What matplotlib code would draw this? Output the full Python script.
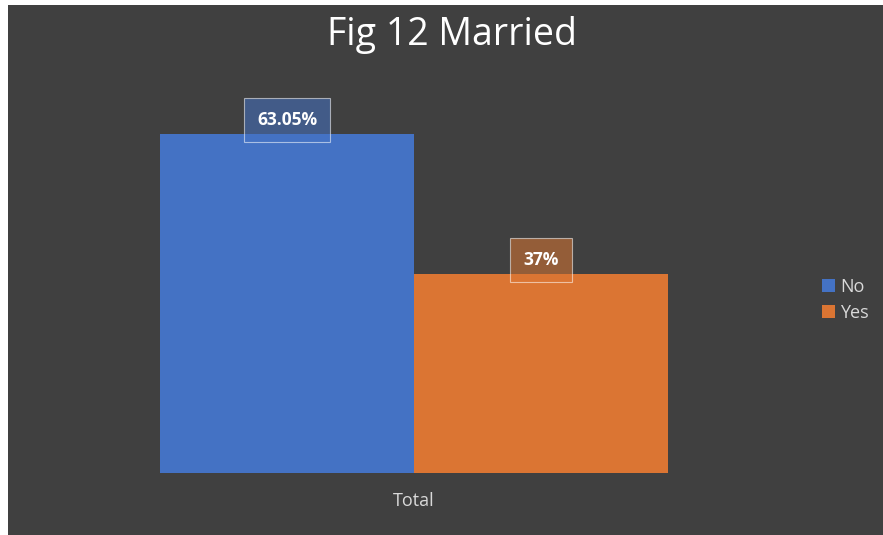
import matplotlib.pyplot as plt
from matplotlib.patches import Rectangle

# data
series = ["No", "Yes"]
values = [63.05, 37]
labels = ["63.05%", "37%"]
category = "Total"
colors = ["#4472C4", "#DB7533"]
title = "Fig 12 Married"

bg = "#404040"
txt = "#D9D9D9"

plt.rcParams['font.family'] = ['Open Sans', 'DejaVu Sans']

fig = plt.figure(figsize=(8.83, 5.35), dpi=100)
fig.patch.set_facecolor("white")
# dark chart area (small white strip left/top like the screenshot)
fig.patches.append(Rectangle((8 / 883, 0), 1, 1 - 5 / 535, transform=fig.transFigure,
                             facecolor=bg, edgecolor="none", zorder=-10))

ax = fig.add_axes([160 / 883, 1 - 473 / 535, 508 / 883, 376 / 535])
ax.set_facecolor("none")

xs = [-0.5, 0.5]
bars = ax.bar(xs, values, width=1.0, color=colors, zorder=2)
ax.set_xlim(-1, 1)
ax.set_ylim(0, 70)

for x, v, lab, c in zip(xs, values, labels, colors):
    ax.annotate(lab, (x, v), xytext=(0, 10), textcoords="offset points",
                ha="center", va="center", fontsize=12.5, fontweight="bold", color="white",
                bbox=dict(boxstyle="square,pad=0.75", fc=c, alpha=0.55,
                          ec="white", lw=0.8),
                zorder=3)

ax.set_xticks([0])
ax.set_xticklabels([category], color=txt, fontsize=13)
ax.tick_params(axis="x", length=0, pad=14)
ax.set_yticks([])
for s in ax.spines.values():
    s.set_visible(False)

fig.text(452 / 883, 1 - 35 / 535, title, ha="center", va="center",
         fontsize=27, color="white")

leg = ax.legend(bars, series, loc="center left", bbox_to_anchor=(1.275, 0.46),
                frameon=False, fontsize=13, handlelength=0.7, handleheight=0.7,
                handletextpad=0.3, labelspacing=0.45, borderpad=0.3)
for t in leg.get_texts():
    t.set_color(txt)

fig.savefig("out.png", dpi=100, facecolor=fig.get_facecolor())
